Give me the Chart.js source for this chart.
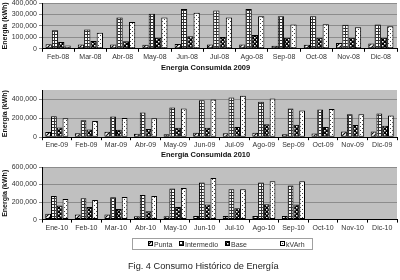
<!DOCTYPE html>
<html><head><meta charset="utf-8">
<script src="https://cdn.jsdelivr.net/npm/chart.js@4.4.0/dist/chart.umd.min.js"></script>
<style>
html,body{margin:0;padding:0;background:#fff;width:400px;height:280px;overflow:hidden;position:relative;font-family:"Liberation Sans",Arial,sans-serif;}
.cv{position:absolute;left:0;}
.ttl{position:absolute;font-weight:bold;font-size:7.5px;color:#111;white-space:nowrap;line-height:1;}
#legend{position:absolute;left:132px;top:238px;width:181px;height:12px;border:1px solid #a0a0a0;background:#fff;box-sizing:border-box;}
.li{position:absolute;top:1.5px;font-size:7px;color:#333;line-height:8px;white-space:nowrap;}
.li canvas{vertical-align:top;margin-right:1px;border:0;}
#cap{position:absolute;left:128px;top:262px;font-size:9.2px;color:#222;white-space:nowrap;line-height:1;}
</style></head>
<body>
<canvas id="c1" class="cv"></canvas>
<canvas id="c2" class="cv"></canvas>
<canvas id="c3" class="cv"></canvas>
<div class="ttl" style="left:161px;top:64px;">Energía Consumida 2009</div>
<div class="ttl" style="left:161px;top:151px;">Energía Consumida 2010</div>
<div id="legend">
 <span class="li" style="left:15px"><canvas id="s0" width="5" height="5"></canvas>Punta</span>
 <span class="li" style="left:46px"><canvas id="s1" width="5" height="5"></canvas>Intermedio</span>
 <span class="li" style="left:92px"><canvas id="s2" width="5" height="5"></canvas>Base</span>
 <span class="li" style="left:147px"><canvas id="s3" width="5" height="5"></canvas>kVArh</span>
</div>
<div id="cap">Fig. 4 Consumo Histórico de Energía</div>
<script>
// ---- data ----
const meses08 = ['Feb-08','Mar-08','Abr-08','May-08','Jun-08','Jul-08','Ago-08','Sep-08','Oct-08','Nov-08','Dic-08'];
const punta08 = [40000,38000,38000,35000,41000,38000,38000,26000,35000,50000,47000];
const intermedio08 = [162000,168000,274000,306000,347000,335000,347000,285000,285000,209000,212000];
const base08 = [59000,68000,65000,97000,109000,103000,120000,97000,97000,97000,97000];
const kvarh08 = [29000,141000,235000,274000,315000,274000,285000,212000,215000,188000,197000];

const meses09 = ['Ene-09','Feb-09','Mar-09','Abr-09','May-09','Jun-09','Jul-09','Ago-09','Sep-09','Oct-09','Nov-09','Dic-09'];
const punta09 = [54000,43000,57000,36000,32000,46000,43000,46000,32000,39000,61000,61000];
const intermedio09 = [221000,179000,218000,261000,314000,391000,421000,375000,304000,293000,243000,250000];
const base09 = [104000,82000,79000,86000,100000,100000,107000,136000,132000,107000,129000,121000];
const kvarh09 = [200000,171000,204000,200000,304000,400000,439000,411000,282000,300000,243000,229000];

const meses10 = ['Ene-10','Feb-10','Mar-10','Abr-10','May-10','Jun-10','Jul-10','Ago-10','Sep-10','Oct-10','Nov-10','Dic-10'];
const punta10 = [68000,57000,57000,38000,38000,42000,40000,40000,40000,null,null,null];
const intermedio10 = [270000,243000,255000,281000,354000,422000,346000,422000,388000,null,null,null];
const base10 = [160000,144000,122000,95000,144000,171000,129000,175000,171000,null,null,null];
const kvarh10 = [236000,224000,259000,270000,361000,475000,346000,437000,437000,null,null,null];

const seriesNames = ['Punta','Intermedio','Base','kVArh'];
const yTitle = 'Energía (kWh)';

// ---- patterns ----
function mkPattern(size, draw){
  const c=document.createElement('canvas'); c.width=size; c.height=size;
  const x=c.getContext('2d'); draw(x,size); return x.createPattern(c,'repeat');
}
const patPunta = mkPattern(4,(x,s)=>{x.fillStyle='#fff';x.fillRect(0,0,s,s);x.strokeStyle='#000';x.lineWidth=1.2;
  x.beginPath();x.moveTo(0,s);x.lineTo(s,0);x.moveTo(-1,1);x.lineTo(1,-1);x.moveTo(s-1,s+1);x.lineTo(s+1,s-1);x.stroke();});
const patInter = mkPattern(3,(x,s)=>{x.fillStyle='#fff';x.fillRect(0,0,s,s);x.fillStyle='#333';x.fillRect(0,0,s,1);x.fillRect(0,0,1,s);});
const patBase = mkPattern(4,(x,s)=>{x.fillStyle='#000';x.fillRect(0,0,s,s);x.fillStyle='#fff';x.fillRect(0,0,1.5,1.5);x.fillRect(2,2,1.5,1.5);});
const patKv = mkPattern(4,(x,s)=>{x.fillStyle='#fff';x.fillRect(0,0,s,s);x.fillStyle='#444';x.fillRect(0,0,1,1);x.fillRect(2,2,1,1);});
const pats=[patPunta,patInter,patBase,patKv];

['s0','s1','s2','s3'].forEach((id,i)=>{const c=document.getElementById(id).getContext('2d');
  c.fillStyle=pats[i];c.fillRect(0,0,5,5);c.strokeStyle='#000';c.lineWidth=1;c.strokeRect(0.5,0.5,4,4);});

const FONT="'Liberation Sans', Arial, sans-serif";
function makeChart(id, labels, arrs, ymax, plotTop, plotBottom){
  const padTop=8, xh=16;
  const cTop=plotTop-padTop;
  const h=Math.round(plotBottom-cTop+xh);
  const cv=document.getElementById(id);
  cv.width=400; cv.height=h; cv.style.top=cTop+'px';
  const xHeight = h-(plotBottom-cTop);
  return new Chart(cv,{
    type:'bar',
    data:{labels:labels,datasets:arrs.map((d,i)=>({label:seriesNames[i],data:d,backgroundColor:pats[i],borderColor:'#000',borderWidth:1,borderSkipped:false,
      categoryPercentage:0.78,barPercentage:1.0}))},
    options:{responsive:false,animation:false,devicePixelRatio:1,
      layout:{padding:{top:padTop,right:3,left:0,bottom:0}},
      plugins:{legend:{display:false},tooltip:{enabled:false},title:{display:false}},
      scales:{
        x:{grid:{display:true,drawOnChartArea:false,tickLength:3,color:'#000',offset:true},border:{display:true,color:'#000'},
           ticks:{font:{family:FONT,size:7},color:'#333',padding:1,maxRotation:0,autoSkip:false},
           afterFit:s=>{s.height=xHeight;}},
        y:{min:0,max:ymax,grid:{color:'#8c8c8c',tickLength:3,lineWidth:1},border:{display:true,color:'#000'},
           ticks:{stepSize:100000,font:{family:FONT,size:7},color:'#333',padding:2,callback:v=>v.toLocaleString('en-US')},
           title:{display:true,text:yTitle,font:{family:FONT,size:7,weight:'bold'},color:'#111',padding:{top:1,bottom:2}},
           afterFit:s=>{s.width=42;}}
      }
    },
    plugins:[{id:'bg',beforeDraw:(ch)=>{const a=ch.chartArea,c=ch.ctx;c.save();c.fillStyle='#c0c0c0';c.fillRect(a.left,a.top,a.right-a.left,a.bottom-a.top);c.restore();}}]
  });
}
makeChart('c1',meses08,[punta08,intermedio08,base08,kvarh08],400000,2.5,48.3);
makeChart('c2',meses09,[punta09,intermedio09,base09,kvarh09],500000,89.5,136.7);
makeChart('c3',meses10,[punta10,intermedio10,base10,kvarh10],600000,167.4,220);
</script>
</body></html>
